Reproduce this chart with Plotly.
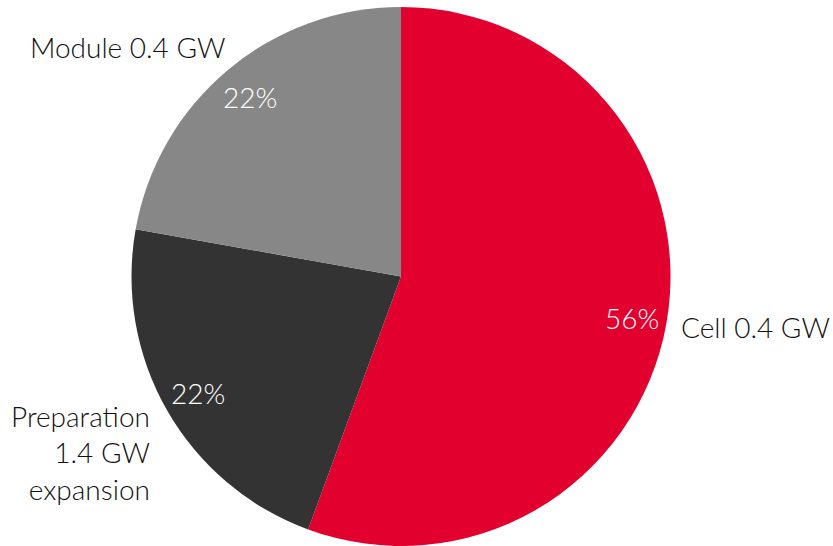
import numpy as np
import plotly.graph_objects as go

labels = ["Cell 0.4 GW", "Preparation<br>1.4 GW<br>expansion", "Module 0.4 GW"]
values = [55.6, 22.2, 22.2]
pct_text = ["56%", "22%", "22%"]
colors = ["#E2002E", "#333333", "#878787"]

W, H = 833, 546
TOP = 7
CX, CY = 401, 276.5
R = (H - TOP) / 2

def px2paper(x, y):
    return x / W, 1 - (y - TOP) / (H - TOP)

fig = go.Figure(go.Pie(
    values=values,
    labels=labels,
    marker=dict(colors=colors, line=dict(width=0)),
    sort=False,
    direction="clockwise",
    rotation=0,
    textinfo="none",
    hoverinfo="label+percent",
    domain=dict(x=[(CX - R) / W, (CX + R) / W], y=[0, 1]),
    showlegend=False,
))

font = dict(family="Lato, 'Open Sans', sans-serif", size=28, weight=300)

# percent labels at 0.87R along each slice's mid angle
v = np.array(values, dtype=float)
cum = np.cumsum(v) / v.sum() * 360
start = np.concatenate([[0], cum[:-1]])
mid = np.radians((start + cum) / 2)
for ang, t in zip(mid, pct_text):
    x = CX + 0.87 * R * np.sin(ang)
    y = CY - 0.87 * R * np.cos(ang)
    px, py = px2paper(x, y)
    fig.add_annotation(x=px, y=py, xref="paper", yref="paper", text=t,
                       showarrow=False, font=dict(font, color="white"),
                       xanchor="center", yanchor="middle")

# outside category labels
label_pos = [(679, 327, "left", "left"), (152, 452, "right", "right"), (227, 47, "right", "right")]
for (x, y, xa, al), t in zip(label_pos, labels):
    px, py = px2paper(x, y)
    fig.add_annotation(x=px, y=py, xref="paper", yref="paper", text=t,
                       showarrow=False, font=dict(font, color="#111111"),
                       xanchor=xa, yanchor="middle", align=al)

fig.update_layout(
    width=W, height=H,
    margin=dict(l=0, r=0, t=TOP, b=0),
    paper_bgcolor="white",
    plot_bgcolor="white",
)
fig.write_html("out.html")
